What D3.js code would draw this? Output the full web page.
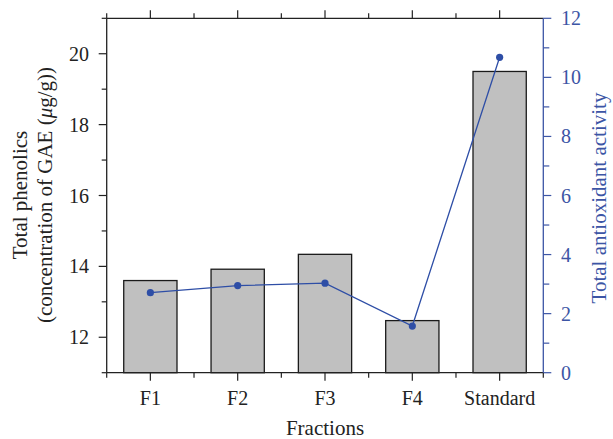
<!DOCTYPE html>
<html><head><meta charset="utf-8">
<script src="https://cdn.jsdelivr.net/npm/d3@7"></script>
<style>body{margin:0;background:#fff}svg{display:block}</style>
</head><body><svg id="c" width="613" height="439"></svg>
<script>
const categories = ["F1","F2","F3","F4","Standard"];
const phenolics = [13.60, 13.92, 14.34, 12.47, 19.50];
const antioxidant = [2.71, 2.95, 3.03, 1.58, 10.68];
const leftTicks = [12,14,16,18,20];
const rightTicks = [0,2,4,6,8,10,12];

const svg = d3.select("#c");
const L = 106.7, R = 543.3, T = 18.3, B = 372.7;
const font = "'Liberation Serif','Times New Roman',serif";
const blue = "#2e4ea6";
const axisBlue = "#3c55a5";
const ink = "#222";

const x = d3.scaleBand().domain(categories).range([L, R]).padding(0);
const yL = d3.scaleLinear().domain([11, 21]).range([B, T]);
const yR = d3.scaleLinear().domain([0, 12]).range([B, T]);

// bars
const bw = x.bandwidth() * 0.61;
svg.append("g").selectAll("rect").data(categories).join("rect")
  .attr("x", (d) => x(d) + x.bandwidth()/2 - bw/2)
  .attr("y", (d,i) => yL(phenolics[i]))
  .attr("width", bw)
  .attr("height", (d,i) => yL(11) - yL(phenolics[i]))
  .attr("fill", "#c0c0c0").attr("stroke", "#1a1a1a").attr("stroke-width", 1.3);

// frame lines
const g = svg.append("g");
g.append("line").attr("x1", L).attr("x2", R).attr("y1", T).attr("y2", T).attr("stroke", ink).attr("stroke-width", 1.3);
g.append("line").attr("x1", L).attr("x2", R).attr("y1", B).attr("y2", B).attr("stroke", ink).attr("stroke-width", 1.3);
g.append("line").attr("x1", L).attr("x2", L).attr("y1", T).attr("y2", B).attr("stroke", ink).attr("stroke-width", 1.3);
g.append("line").attr("x1", R).attr("x2", R).attr("y1", T).attr("y2", B).attr("stroke", axisBlue).attr("stroke-width", 1.3);

// left axis ticks
const leftMinor = [11,13,15,17,19,21];
g.selectAll(".lmaj").data(leftTicks).join("line")
  .attr("x1", L-8).attr("x2", L).attr("y1", d=>yL(d)).attr("y2", d=>yL(d)).attr("stroke",ink).attr("stroke-width",1.2);
g.selectAll(".lmin").data(leftMinor).join("line")
  .attr("x1", L-5).attr("x2", L).attr("y1", d=>yL(d)).attr("y2", d=>yL(d)).attr("stroke",ink).attr("stroke-width",1.2);
g.selectAll(".ltxt").data(leftTicks).join("text")
  .attr("x", 89).attr("y", d=>yL(d)).attr("dy","0.35em").attr("text-anchor","end")
  .attr("font-family", font).attr("font-size", 20).attr("fill",ink).text(d=>d);

// right axis ticks
const rightMinor = [1,3,5,7,9,11];
g.selectAll(".rmaj").data(rightTicks).join("line")
  .attr("x1", R).attr("x2", R+8).attr("y1", d=>yR(d)).attr("y2", d=>yR(d)).attr("stroke",axisBlue).attr("stroke-width",1.2);
g.selectAll(".rmin").data(rightMinor).join("line")
  .attr("x1", R).attr("x2", R+6).attr("y1", d=>yR(d)).attr("y2", d=>yR(d)).attr("stroke",axisBlue).attr("stroke-width",1.2);
g.selectAll(".rtxt").data(rightTicks).join("text")
  .attr("x", 561).attr("y", d=>yR(d)).attr("dy","0.35em").attr("text-anchor","start")
  .attr("font-family", font).attr("font-size", 20).attr("fill",axisBlue).text(d=>d);

// bottom / top ticks
const centers = categories.map(c => x(c) + x.bandwidth()/2);
const bounds = categories.map(c => x(c)).concat([R]);
g.selectAll(".bmaj").data(centers).join("line")
  .attr("x1", d=>d).attr("x2", d=>d).attr("y1", B).attr("y2", B+8).attr("stroke",ink).attr("stroke-width",1.2);
g.selectAll(".bmin").data(bounds).join("line")
  .attr("x1", d=>d).attr("x2", d=>d).attr("y1", B).attr("y2", B+5).attr("stroke",ink).attr("stroke-width",1.2);
g.selectAll(".tmaj").data(centers).join("line")
  .attr("x1", d=>d).attr("x2", d=>d).attr("y1", T).attr("y2", T-8).attr("stroke",ink).attr("stroke-width",1.2);
g.selectAll(".tmin").data(bounds.slice(1,-1)).join("line")
  .attr("x1", d=>d).attr("x2", d=>d).attr("y1", T).attr("y2", T-5).attr("stroke",ink).attr("stroke-width",1.2);
g.append("line").attr("x1", L).attr("x2", L).attr("y1", T).attr("y2", T-5).attr("stroke",ink).attr("stroke-width",1.2);
g.selectAll(".btxt").data(categories).join("text")
  .attr("x", d => x(d) + x.bandwidth()/2).attr("y", 405).attr("text-anchor","middle")
  .attr("font-family", font).attr("font-size", 20).attr("fill",ink).text(d=>d);

// line + points
const line = d3.line().x((d,i)=>centers[i]).y(d=>yR(d));
svg.append("path").datum(antioxidant).attr("d", line).attr("fill","none").attr("stroke",blue).attr("stroke-width",1.3);
svg.append("g").selectAll("circle").data(antioxidant).join("circle")
  .attr("cx", (d,i)=>centers[i]).attr("cy", d=>yR(d)).attr("r", 3.6).attr("fill", blue);

// titles
svg.append("text").attr("x", 325).attr("y", 435).attr("text-anchor","middle")
  .attr("font-family", font).attr("font-size", 21).attr("fill",ink).text("Fractions");
const lt = svg.append("text").attr("transform","translate(27,195) rotate(-90)").attr("text-anchor","middle")
  .attr("font-family", font).attr("font-size", 21).attr("fill",ink);
lt.append("tspan").attr("x",0).attr("y",0).text("Total phenolics");
const t2 = lt.append("tspan").attr("x",0).attr("y",25);
t2.append("tspan").text("(concentration of GAE (");
t2.append("tspan").attr("font-style","italic").text("μ");
t2.append("tspan").text("g/g))");
svg.append("text").attr("transform","translate(606,198) rotate(-90)").attr("text-anchor","middle")
  .attr("font-family", font).attr("font-size", 21).attr("fill",axisBlue).text("Total antioxidant activity");
</script></body></html>
